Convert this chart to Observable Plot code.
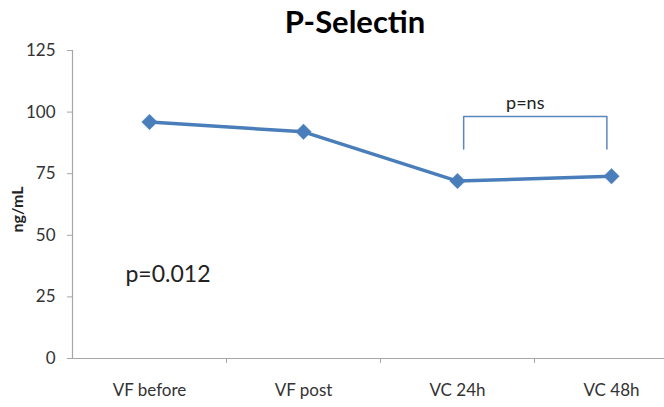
<!DOCTYPE html>
<html><head><meta charset="utf-8">
<script src="https://cdn.jsdelivr.net/npm/d3@7"></script>
<script src="https://cdn.jsdelivr.net/npm/@observablehq/plot@0.6"></script>
<style>
body{margin:0;background:#fff;font-family:Lato,sans-serif;overflow:hidden}
#title{width:664px;height:40px;box-sizing:border-box;padding-left:46px;text-align:center;font:bold 31px Lato,sans-serif;line-height:42px;color:#000}
</style></head><body>
<div id="title">P-Selectin</div>
<div id="chart"></div>
<script>
const categories = ["VF before", "VF post", "VC 24h", "VC 48h"];
const values = [96, 92, 72, 74];
const yTicks = [0, 25, 50, 75, 100, 125];
const bracketX = [2.04, 2.04, 2.97, 2.97];
const bracketY = [85, 98.2, 98.2, 85];
const annotations = [{x: 2.44, y: 103.5, text: "p=ns", size: 18}, {x: 0.12, y: 34, text: "p=0.012", size: 23}];

const data = categories.map((c, i) => ({i, c, v: values[i]}));
const bracket = bracketX.map((x, k) => ({x, y: bracketY[k]}));

const plot = Plot.plot({
  width: 664, height: 367,
  marginLeft: 72, marginRight: 0, marginTop: 10, marginBottom: 49,
  style: {fontFamily: "Lato, sans-serif", background: "#fff", overflow: "visible"},
  x: {type: "linear", domain: [-0.5, 3.5], range: [72, 688]},
  y: {domain: [0, 125], range: [318, 10]},
  marks: [
    Plot.ruleX([-0.5], {y1: 0, y2: 125, stroke: "#a6a6a6", strokeWidth: 1.2}),
    Plot.ruleY([0], {stroke: "#a6a6a6", strokeWidth: 1.2}),
    Plot.axisY({ticks: yTicks, tickSize: 5, tickPadding: 12, stroke: "#a6a6a6", fill: "#333", fontSize: 17, label: null}),
    Plot.axisX({ticks: [0.5, 1.5, 2.5], tickSize: 5, tickFormat: () => "", stroke: "#a6a6a6", label: null}),
    Plot.axisX({ticks: [0, 1, 2, 3], tickSize: 0, tickPadding: 25, tickFormat: i => categories[i], fill: "#333", fontSize: 17, label: null}),
    Plot.text(["ng/mL"], {frameAnchor: "left", dx: -55, dy: 28, rotate: -90, fontWeight: "bold", fontSize: 16, fill: "#222"}),
    Plot.line(bracket, {x: "x", y: "y", stroke: "#5b87be", strokeWidth: 1.5}),
    Plot.line(data, {x: "i", y: "v", stroke: "#4a7ebb", strokeWidth: 3.5}),
    Plot.dot(data, {x: "i", y: "v", symbol: "diamond2", r: 7, fill: "#4a7ebb", stroke: "#4a7ebb", strokeWidth: 0.5}),
    Plot.text(annotations, {x: "x", y: "y", text: "text", fontSize: "size", fill: "#222", textAnchor: "middle"})
  ]
});
document.getElementById("chart").appendChild(plot);
</script>
</body></html>
